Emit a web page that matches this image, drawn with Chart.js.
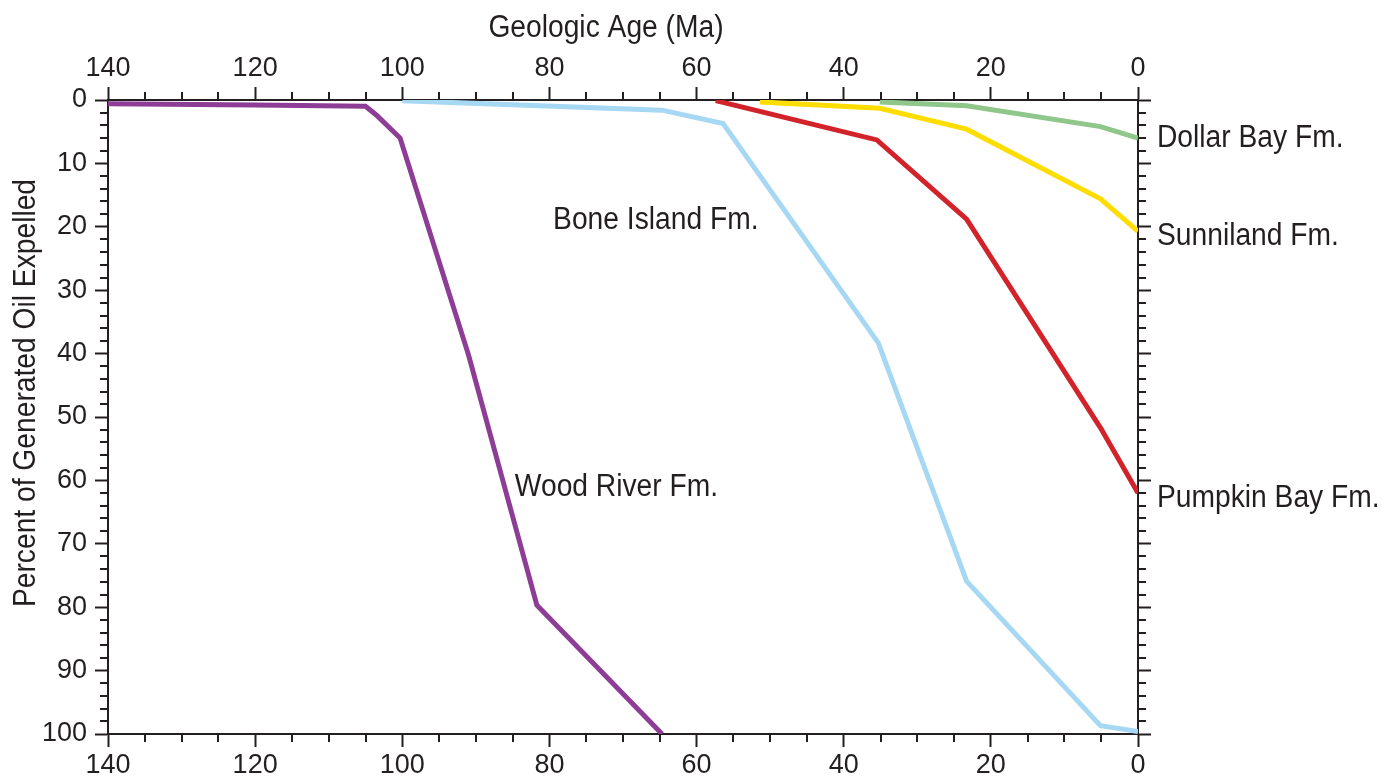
<!DOCTYPE html>
<html><head><meta charset="utf-8">
<script src="https://cdn.jsdelivr.net/npm/chart.js@4.4.1/dist/chart.umd.min.js"></script>
<style>html,body{margin:0;padding:0;background:#fff}#wrap{width:1382px;height:779px}</style>
</head><body><div id="wrap"><canvas id="c" width="1382" height="779"></canvas></div>
<script>
// ---- data (Geologic age in Ma, percent of generated oil expelled) ----
const woodRiverAge = [140, 120, 105, 103.5, 100.3, 91.0, 81.7, 64.7];
const woodRiverPct = [0.6, 0.8, 1.0, 2.4, 6.0, 40.2, 79.7, 100];
const boneIslandAge = [100, 64.7, 56.4, 35.3, 23.3, 5.1, 0];
const boneIslandPct = [0.1, 1.6, 3.7, 38.3, 75.9, 98.7, 99.6];
const pumpkinBayAge = [57.4, 35.5, 23.3, 5.1, 0];
const pumpkinBayPct = [0.1, 6.3, 18.8, 51.7, 62.0];
const sunnilandAge = [51.4, 35.1, 23.3, 5.1, 0];
const sunnilandPct = [0.3, 1.3, 4.6, 15.6, 20.7];
const dollarBayAge = [35.1, 23.3, 5.1, 0];
const dollarBayPct = [0.3, 0.9, 4.2, 6.0];
const seriesNames = ['Wood River Fm.', 'Bone Island Fm.', 'Pumpkin Bay Fm.', 'Sunniland Fm.', 'Dollar Bay Fm.'];
const seriesColors = ['#8E3D97', '#A6D8F3', '#D3232A', '#FFDD00', '#8FC78A'];
const xTickLabels = [140, 120, 100, 80, 60, 40, 20, 0];
const yTickLabels = [0, 10, 20, 30, 40, 50, 60, 70, 80, 90, 100];

const INK = '#231F20';
const FONT = "'Liberation Sans','Arial',sans-serif";

function pts(xs, ys) { return xs.map((x, i) => ({ x: x, y: ys[i] })); }
const allAges = [woodRiverAge, boneIslandAge, pumpkinBayAge, sunnilandAge, dollarBayAge];
const allPcts = [woodRiverPct, boneIslandPct, pumpkinBayPct, sunnilandPct, dollarBayPct];
const order = [4, 3, 2, 1, 0];
const datasets = order.map(i => ({
  label: seriesNames[i],
  data: pts(allAges[i], allPcts[i]),
  borderColor: seriesColors[i],
  backgroundColor: seriesColors[i],
  borderWidth: 5,
  pointRadius: 0,
  tension: 0,
  fill: false
}));

function xAxis(pos, h) {
  return {
    type: 'linear', position: pos, reverse: true, min: 0, max: 140,
    ticks: {
      stepSize: 20, color: INK, padding: 2,
      font: { family: FONT, size: 27 },
      callback: v => xTickLabels.includes(v) ? String(v) : ''
    },
    grid: { drawOnChartArea: false, tickLength: 13, tickWidth: 2, tickColor: INK },
    border: { display: true, color: INK, width: 2 },
    afterFit: s => { s.height = h; }
  };
}
function yAxis(pos, w, show) {
  return {
    type: 'linear', position: pos, reverse: true, min: 0, max: 100,
    ticks: {
      display: show, stepSize: 10, color: INK, padding: 8,
      font: { family: FONT, size: 27 },
      callback: v => yTickLabels.includes(v) ? String(v) : ''
    },
    grid: { drawOnChartArea: false, tickLength: 13, tickWidth: 2, tickColor: INK },
    border: { display: true, color: INK, width: 2 },
    afterFit: s => { s.width = w; }
  };
}

function narrowText(ctx, text, x, y, rot) {
  ctx.save();
  ctx.translate(x, y);
  if (rot) ctx.rotate(rot);
  ctx.scale(0.91, 1);
  ctx.fillText(text, 0, 0);
  ctx.restore();
}

const decor = {
  id: 'decor',
  afterDraw(chart) {
    const ctx = chart.ctx, a = chart.chartArea;
    const xs = chart.scales.x, ys = chart.scales.y;
    ctx.save();
    ctx.strokeStyle = INK; ctx.lineWidth = 2;
    ctx.beginPath();
    for (let v = 0; v <= 140; v += 5) {
      if (v % 20 === 0) continue;
      const p = Math.round(xs.getPixelForValue(v));
      ctx.moveTo(p, a.top); ctx.lineTo(p, a.top - 8);
      ctx.moveTo(p, a.bottom); ctx.lineTo(p, a.bottom + 8);
    }
    for (let v = 0; v <= 100; v += 2) {
      if (v % 10 === 0) continue;
      const p = Math.round(ys.getPixelForValue(v));
      ctx.moveTo(a.left, p); ctx.lineTo(a.left - 8, p);
      ctx.moveTo(a.right, p); ctx.lineTo(a.right + 8, p);
    }
    ctx.stroke();

    ctx.fillStyle = INK;
    ctx.font = '31px ' + FONT;
    ctx.textBaseline = 'alphabetic';
    // axis titles
    ctx.textAlign = 'center';
    narrowText(ctx, 'Geologic Age (Ma)', 606, 37);
    narrowText(ctx, 'Percent of Generated Oil Expelled', 35, 393, -Math.PI / 2);
    // series labels
    ctx.textAlign = 'left';
    narrowText(ctx, 'Bone Island Fm.', xs.getPixelForValue(79.5), ys.getPixelForValue(20.3));
    narrowText(ctx, 'Wood River Fm.', xs.getPixelForValue(84.7), ys.getPixelForValue(62.5));
    const rx = a.right + 19;
    narrowText(ctx, 'Dollar Bay Fm.', rx, ys.getPixelForValue(7.4));
    narrowText(ctx, 'Sunniland Fm.', rx, ys.getPixelForValue(22.9));
    narrowText(ctx, 'Pumpkin Bay Fm.', rx, ys.getPixelForValue(64.2));
    ctx.restore();
  }
};

new Chart(document.getElementById('c'), {
  type: 'line',
  data: { datasets: datasets },
  options: {
    responsive: false,
    animation: false,
    devicePixelRatio: 1,
    layout: { padding: 0 },
    plugins: { legend: { display: false }, tooltip: { enabled: false }, title: { display: false } },
    scales: {
      x: xAxis('bottom', 45),
      x2: xAxis('top', 100),
      y: yAxis('left', 108, true),
      y2: yAxis('right', 244, false)
    }
  },
  plugins: [decor]
});
</script>
</body></html>
